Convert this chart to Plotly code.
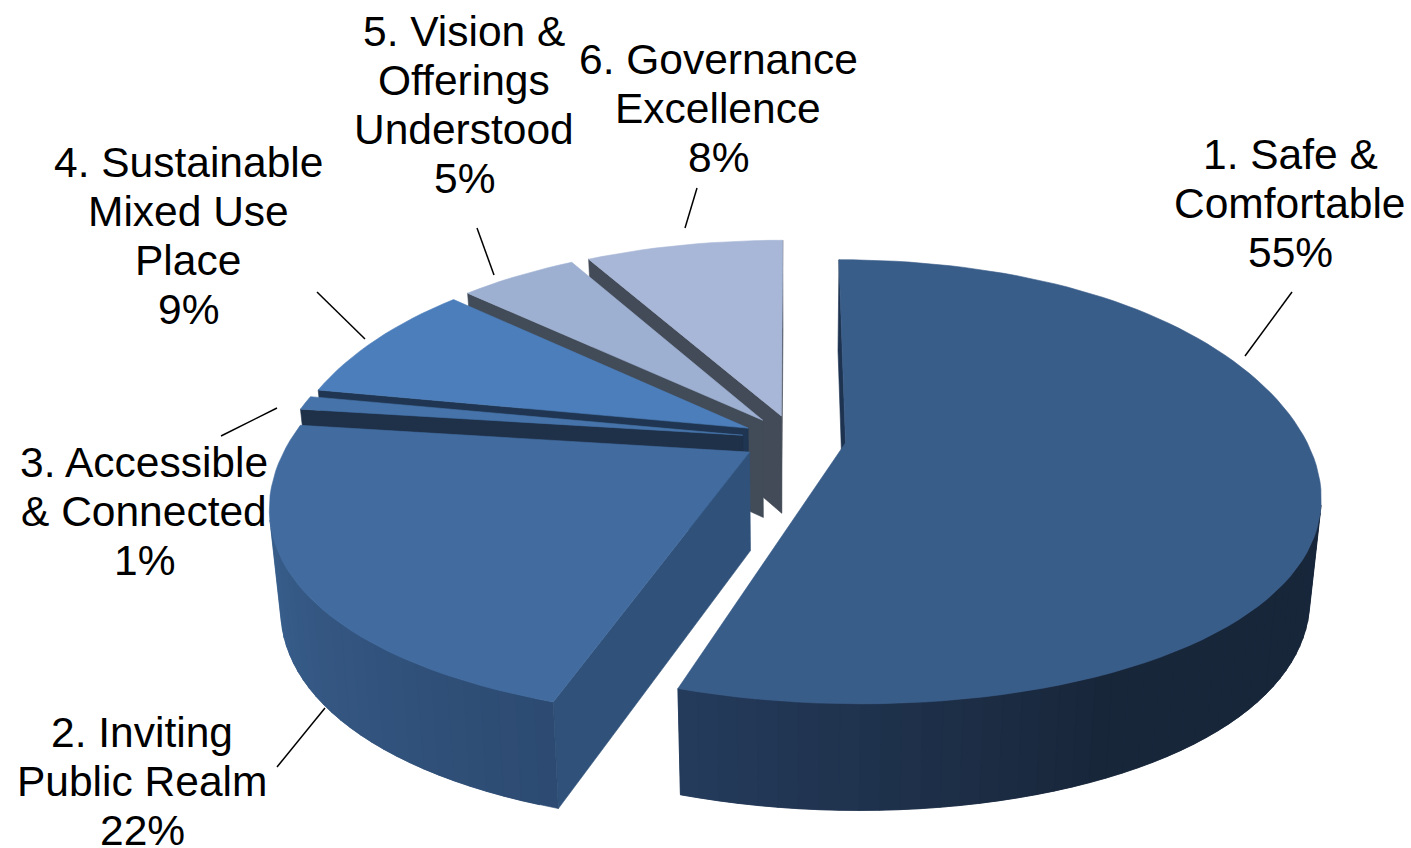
import math
import plotly.graph_objects as go

# Survey result shares, clockwise from twelve o'clock
categories = ["1. Safe &<br>Comfortable", "2. Inviting<br>Public Realm", "3. Accessible<br>& Connected",
              "4. Sustainable<br>Mixed Use<br>Place", "5. Vision &<br>Offerings<br>Understood",
              "6. Governance<br>Excellence"]
shares = [55, 22, 1, 9, 5, 8]

top_colors = ["#395d89", "#426c9f", "#4674aa", "#4b7ebb", "#9eb0d2", "#a8b7d7"]
cut_colors = ["#1d3350", "#30527a", "#1f3049", "#1f3551", "#424b58", "#434b58"]
# rim colour at the slice's start and end angle, and where the blend begins
rim_colors = [("#18263a", "#253c5d", 0.78), ("#2d4b72", "#3e6899", 0.0), ("#1f3049", "#1f3049", 0.0),
              ("#1f3551", "#1f3551", 0.0), ("#424b58", "#424b58", 0.0), ("#434b58", "#434b58", 0.0)]

# Where each label block sits and how its leader line runs
label_centers = [(1290, 154), (142, 732), (144, 462), (188, 162), (464, 31), (718, 59)]
leaders = [((1245, 356), (1292, 292)), ((325, 708), (277, 767)), ((277, 408), (221, 436)),
           ((365, 339), (317, 292)), ((494, 275), (477, 228)), ((685, 228), (697, 188))]
line_step = 49

# Camera and pie geometry
CX, CY = 794, 439
R = 460
EXPLODE = 52
DEPTH_PX = 98
K = 0.465         # foreshortening of the ground plane
PX1, PX2 = 0.2075, 0.0825  # horizontal perspective along the depth axis
PY = 0.175        # vertical perspective along the depth axis
PZ = 0.08         # perspective of the wall height
Q = 0.022         # shrink towards the base of the pie
STEP_DEG = 2.0


def project(x, y, z):
    u = y / R
    sx = (1 - PX1 * u + PX2 * u * u) / (1 + Q * z)
    sy = 1 / (1 + PY * u)
    sz = 1 / (1 + PZ * u)
    return CX + x * sx, CY - K * y * sy + z * DEPTH_PX * sz


def mix(c0, c1, t):
    a = [int(c0[i:i + 2], 16) for i in (1, 3, 5)]
    b = [int(c1[i:i + 2], 16) for i in (1, 3, 5)]
    return "rgb(%d,%d,%d)" % tuple(round(u + (v - u) * t) for u, v in zip(a, b))


def signed_area(pts):
    return sum(pts[i][0] * pts[(i + 1) % len(pts)][1] - pts[(i + 1) % len(pts)][0] * pts[i][1]
               for i in range(len(pts))) / 2


fig = go.Figure()


def polygon(pts, color):
    xs = [p[0] for p in pts] + [pts[0][0]]
    ys = [p[1] for p in pts] + [pts[0][1]]
    fig.add_trace(go.Scatter(x=xs, y=ys, mode="lines", fill="toself", fillcolor=color,
                             line=dict(color=color, width=0.6), hoverinfo="skip", showlegend=False))


total = sum(shares)
spans = []
acc = 0
for v in shares:
    spans.append((acc / total * 2 * math.pi, (acc + v) / total * 2 * math.pi))
    acc += v

# Far slices first, so nearer ones paint over them
for i in [5, 4, 3, 2, 1, 0]:
    a0, a1 = spans[i]
    mid = (a0 + a1) / 2
    ox, oy = EXPLODE * math.sin(mid), EXPLODE * math.cos(mid)
    n = max(2, int(math.degrees(a1 - a0) / STEP_DEG))
    angles = [a0 + (a1 - a0) * j / n for j in range(n + 1)]
    rim = [(ox + R * math.sin(a), oy + R * math.cos(a)) for a in angles]

    def quad(p, q):
        return [project(*p, 0), project(*q, 0), project(*q, 1), project(*p, 1)]

    apex = (ox, oy)
    # cut faces: a face shows when its winding points at the camera
    start = quad(apex, rim[0])
    if signed_area(start) < 0:
        polygon(start, cut_colors[i])
    end = quad(rim[-1], apex)
    if signed_area(end) < 0:
        polygon(end, cut_colors[i])
    # outer wall in narrow shaded strips, each overlapping the next to hide seams
    c0, c1, begin = rim_colors[i]
    for j in range(n):
        q = quad(rim[j], rim[min(j + 2, n)])
        if signed_area(q) < 0:
            t = max(0.0, (j / n - begin) / (1 - begin))
            polygon(q, mix(c0, c1, t))
    polygon([project(*apex, 0)] + [project(*p, 0) for p in rim], top_colors[i])

# Leader lines
for (p0, p1) in leaders:
    fig.add_trace(go.Scatter(x=[p0[0], p1[0]], y=[p0[1], p1[1]], mode="lines",
                             line=dict(color="#000000", width=1.5), hoverinfo="skip", showlegend=False))

# Labels, one annotation per line for tight leading
annotations = []
for name, share, (lx, ly) in zip(categories, shares, label_centers):
    for k, row in enumerate(name.split("<br>") + [f"{share}%"]):
        annotations.append(dict(x=lx, y=ly + k * line_step, xref="x", yref="y", text=row,
                                showarrow=False, xanchor="center", yanchor="middle",
                                font=dict(family="Liberation Sans", size=42.5, color="#000000")))

fig.update_layout(
    width=1411, height=848, margin=dict(l=0, r=0, t=0, b=0),
    paper_bgcolor="#ffffff", plot_bgcolor="#ffffff", showlegend=False,
    xaxis=dict(range=[0, 1411], visible=False, fixedrange=True),
    yaxis=dict(range=[848, 0], visible=False, fixedrange=True),
    annotations=annotations,
)
fig.write_html("out.html", config={"displayModeBar": False})
